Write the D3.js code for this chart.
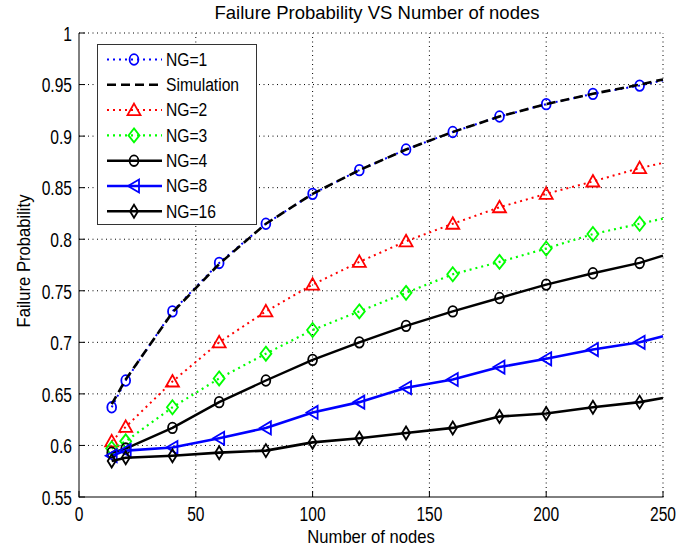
<!DOCTYPE html>
<html><head><meta charset="utf-8">
<script src="https://cdn.jsdelivr.net/npm/d3@7/dist/d3.min.js"></script>
<style>body{margin:0;background:#fff}svg{display:block}text{font-family:"Liberation Sans",Arial,sans-serif;fill:#000}</style>
</head><body><svg id="c" width="690" height="551"></svg>
<script>
// ---- data ----
const nodes = [14,20,40,60,80,100,120,140,160,180,200,220,240,250];
const markerCount = 13; // markers on first 13 points (up to 240)
const ng1  = [0.637,0.663,0.730,0.777,0.815,0.844,0.867,0.887,0.904,0.919,0.931,0.941,0.949,0.954];
const simu = [0.640,0.664,0.729,0.776,0.815,0.844,0.867,0.887,0.904,0.919,0.931,0.941,0.950,0.955];
const ng2  = [0.604,0.618,0.662,0.700,0.730,0.756,0.778,0.798,0.815,0.831,0.844,0.856,0.869,0.874];
const ng3  = [0.597,0.604,0.637,0.665,0.689,0.712,0.730,0.748,0.766,0.778,0.791,0.805,0.815,0.820];
const ng4  = [0.593,0.597,0.617,0.642,0.663,0.683,0.700,0.716,0.730,0.743,0.756,0.767,0.777,0.784];
const ng8  = [0.590,0.595,0.598,0.607,0.617,0.632,0.642,0.656,0.664,0.676,0.684,0.693,0.700,0.706];
const ng16 = [0.585,0.588,0.590,0.593,0.595,0.603,0.607,0.612,0.617,0.628,0.631,0.637,0.642,0.646];
const xTicks = [0,50,100,150,200,250];
const yTicks = [0.55,0.6,0.65,0.7,0.75,0.8,0.85,0.9,0.95,1];
const legendLabels = ["NG=1","Simulation","NG=2","NG=3","NG=4","NG=8","NG=16"];
const titleText = "Failure Probability VS Number of nodes";
const xLabel = "Number of nodes", yLabel = "Failure Probability";

// ---- layout ----
const L=79,R=663,T=33,B=497;
const x = d3.scaleLinear().domain([0,250]).range([L,R]);
const y = d3.scaleLinear().domain([0.55,1]).range([B,T]);
const svg = d3.select("#c");

const series = [
 {name:"NG=1", vals:ng1, color:"#0000ff", dash:"2,4", w:2, marker:"circle"},
 {name:"Simulation", vals:simu, color:"#000", dash:"9,5", w:2.6, marker:null},
 {name:"NG=2", vals:ng2, color:"#ff0000", dash:"2,4", w:2, marker:"triUp"},
 {name:"NG=3", vals:ng3, color:"#00ff00", dash:"2,4", w:2.2, marker:"diamond"},
 {name:"NG=4", vals:ng4, color:"#000", dash:null, w:2.4, marker:"circle"},
 {name:"NG=8", vals:ng8, color:"#0000ff", dash:null, w:2.6, marker:"triLeft"},
 {name:"NG=16", vals:ng16, color:"#000", dash:null, w:2.6, marker:"diamondN"}
];

function markerPath(type){
  switch(type){
    case "triUp": return "M0,-6.5L6.5,5L-6.5,5Z";
    case "diamond": return "M0,-7L5.5,0L0,7L-5.5,0Z";
    case "diamondN": return "M0,-6.5L4,0L0,6.5L-4,0Z";
    case "triLeft": return "M-6,0L5,-6.5L5,6.5Z";
  }
}
function drawMarker(g, type, color, cx, cy){
  if(type==="circle"){
    g.append("ellipse").attr("cx",cx).attr("cy",cy).attr("rx",4.4).attr("ry",5.3)
     .attr("fill","none").attr("stroke",color).attr("stroke-width",1.8);
  } else {
    g.append("path").attr("d",markerPath(type)).attr("transform",`translate(${cx},${cy})`)
     .attr("fill","none").attr("stroke",color).attr("stroke-width",1.8).attr("stroke-linejoin","miter");
  }
}
function stext(g, s, tx, ty, size, sx, anchor, rot){
  const t = g.append("text").text(s).attr("font-size",size).attr("text-anchor",anchor||"start")
   .attr("dy","0.35em")
   .attr("transform",`translate(${tx},${ty})${rot?` rotate(${rot})`:""} scale(${sx},1)`);
  return t;
}

// grid
const grid = svg.append("g").attr("stroke","#000").attr("stroke-width",1).attr("stroke-dasharray","1,3.5");
xTicks.filter(v=>v>0).forEach(v=>grid.append("line").attr("x1",x(v)).attr("x2",x(v)).attr("y1",B).attr("y2",T));
yTicks.filter(v=>v>0.55).forEach(v=>grid.append("line").attr("x1",L).attr("x2",R).attr("y1",y(v)).attr("y2",y(v)));

// axes lines (left + bottom) with inward ticks
const ax = svg.append("g").attr("stroke","#000").attr("stroke-width",1);
ax.append("line").attr("x1",L).attr("x2",L).attr("y1",T).attr("y2",B+0.5);
ax.append("line").attr("x1",L).attr("x2",R+0.5).attr("y1",B).attr("y2",B);
xTicks.forEach(v=>ax.append("line").attr("x1",x(v)).attr("x2",x(v)).attr("y1",B).attr("y2",B-6));
yTicks.forEach(v=>ax.append("line").attr("x1",L).attr("x2",L+6).attr("y1",y(v)).attr("y2",y(v)));

// tick labels
const tl = svg.append("g");
xTicks.forEach(v=>stext(tl, String(v), x(v), 514, 19.5, 0.8, "middle"));
yTicks.forEach(v=>stext(tl, String(v), 72, y(v)+1, 19.5, 0.8, "end"));

// labels
stext(svg, titleText, (L+R)/2 + 6, 13, 18.5, 1, "middle");
stext(svg, xLabel, (L+R)/2, 537, 17.5, 0.95, "middle");
stext(svg, yLabel, 24, 261, 17.5, 0.95, "middle", -90);

// series
const line = d3.line().x(d=>x(d.n)).y(d=>y(d.v));
const plot = svg.append("g");
series.forEach(s=>{
  const pts = nodes.map((n,i)=>({n, v:s.vals[i]}));
  const g = plot.append("g");
  g.append("path").attr("d",line(pts)).attr("fill","none").attr("stroke",s.color)
   .attr("stroke-width",s.w).attr("stroke-dasharray",s.dash).attr("stroke-linejoin","round");
  if(s.marker) pts.slice(0,markerCount).forEach(p=>drawMarker(g, s.marker, s.color, x(p.n), y(p.v)));
});

// legend
const lg = svg.append("g");
lg.append("rect").attr("x",97.5).attr("y",44.5).attr("width",159).attr("height",180)
  .attr("fill","#fff").attr("stroke","#333").attr("stroke-width",1);
series.forEach((s,i)=>{
  const yy = 59.5 + i*25.3;
  lg.append("line").attr("x1",107).attr("x2",162).attr("y1",yy).attr("y2",yy)
    .attr("stroke",s.color).attr("stroke-width",s.w).attr("stroke-dasharray",s.dash);
  if(s.marker) drawMarker(lg, s.marker, s.color, 134, yy);
  stext(lg, legendLabels[i], 166, yy, 18, 0.87, "start");
});
</script></body></html>
